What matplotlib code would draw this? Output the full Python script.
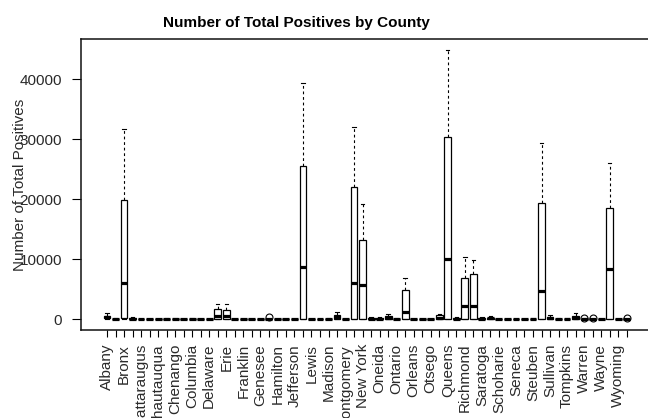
import matplotlib
matplotlib.use("Agg")
import matplotlib.pyplot as plt

# County names (alphabetical, as sorted by R)
counties = [
    "Albany", "Allegany", "Bronx", "Broome", "Cattaraugus", "Cayuga", "Chautauqua",
    "Chemung", "Chenango", "Clinton", "Columbia", "Cortland", "Delaware", "Dutchess",
    "Erie", "Essex", "Franklin", "Fulton", "Genesee", "Greene", "Hamilton", "Herkimer",
    "Jefferson", "Kings", "Lewis", "Livingston", "Madison", "Monroe", "Montgomery",
    "Nassau", "New York", "Niagara", "Oneida", "Onondaga", "Ontario", "Orange",
    "Orleans", "Oswego", "Otsego", "Putnam", "Queens", "Rensselaer", "Richmond",
    "Rockland", "Saratoga", "Schenectady", "Schoharie", "Schuyler", "Seneca",
    "St. Lawrence", "Steuben", "Suffolk", "Sullivan", "Tioga", "Tompkins", "Ulster",
    "Warren", "Washington", "Wayne", "Westchester", "Wyoming", "Yates",
]

# five-number summaries per county
q1 = [100, 0, 100, 10, 0, 0, 0, 0, 0, 0, 0, 0, 0, 50,
      50, 0, 0, 0, 0, 0, 0, 0, 0, 50, 0, 0, 0, 30, 0,
      50, 50, 10, 10, 30, 0, 30, 0, 0, 0, 20, 50, 10, 30,
      30, 10, 10, 0, 0, 0, 0, 0, 50, 10, 0, 0, 20,
      0, 0, 0, 50, 0, 0]
median = [350, 20, 6000, 60, 10, 10, 10, 20, 15, 10, 20, 10, 10, 450,
          500, 5, 5, 10, 10, 10, 0, 10, 10, 8700, 5, 10, 20, 300, 10,
          6000, 5700, 60, 40, 250, 20, 1200, 10, 10, 10, 200, 10000, 80, 2200,
          2200, 80, 100, 5, 2, 5, 10, 20, 4700, 100, 20, 20, 200,
          20, 10, 10, 8300, 10, 5]
q3 = [550, 60, 19800, 180, 40, 40, 30, 80, 60, 40, 60, 30, 30, 1700,
      1500, 20, 15, 40, 40, 30, 5, 40, 30, 25500, 10, 40, 80, 700, 40,
      22000, 13200, 200, 150, 550, 60, 4800, 40, 40, 40, 600, 30300, 200, 6800,
      7500, 250, 250, 20, 10, 20, 40, 80, 19300, 300, 60, 70, 500,
      60, 40, 40, 18500, 30, 15]
whisker_lo = [0] * len(counties)
whisker_hi = [1000, 120, 31700, 350, 80, 80, 60, 150, 120, 80, 150, 60, 60, 2500,
              2500, 40, 30, 80, 80, 70, 5, 80, 60, 39300, 20, 80, 150, 1100, 80,
              32000, 19200, 400, 300, 800, 120, 6800, 80, 80, 80, 900, 44800, 350, 10300,
              9800, 400, 450, 40, 20, 40, 80, 150, 29300, 700, 120, 130, 1000,
              120, 80, 80, 26000, 60, 30]
outliers = {"Greene": [280], "Warren": [200], "Washington": [180], "Yates": [150]}

stats = []
for i, name in enumerate(counties):
    stats.append({
        "label": name,
        "q1": q1[i], "med": median[i], "q3": q3[i],
        "whislo": whisker_lo[i], "whishi": whisker_hi[i],
        "fliers": outliers.get(name, []),
    })

plt.rcParams["font.family"] = ["Liberation Sans", "DejaVu Sans"]
plt.rcParams["font.size"] = 11

fig = plt.figure(figsize=(6.48, 4.18), dpi=100)
ax = fig.add_axes([81 / 648, 88 / 418, 567 / 648, 291 / 418])

positions = list(range(1, len(counties) + 1))
ax.bxp(stats, positions=positions, widths=0.8, capwidths=0.4,
       patch_artist=True,
       boxprops=dict(facecolor="white", edgecolor="black", linewidth=0.9),
       medianprops=dict(color="black", linewidth=2.3, solid_capstyle="butt"),
       whiskerprops=dict(color="black", linewidth=0.8, linestyle=(0, (2.5, 2.5))),
       capprops=dict(color="black", linewidth=0.8),
       flierprops=dict(marker="o", markerfacecolor="none", markeredgecolor="black",
                       markersize=5, markeredgewidth=0.8))

ax.set_xlim(-2.05, 64.5)
ax.set_ylim(-1833, 46667)

# every other name is shown, as R drops overlapping labels
shown = [name if i % 2 == 0 else "" for i, name in enumerate(counties)]
ax.set_xticks(positions)
ax.set_xticklabels(shown, rotation=90, va="top", ha="center", color="#2a2a2a")
ax.tick_params(axis="x", length=5, width=0.8, pad=5)

ax.set_yticks([0, 10000, 20000, 30000, 40000])
ax.set_yticklabels(["0", "10000", "20000", "30000", "40000"], color="#2a2a2a")
ax.tick_params(axis="y", length=6.5, width=0.8, pad=7)

ax.spines["right"].set_visible(False)
for side in ["left", "top", "bottom"]:
    ax.spines[side].set_linewidth(1.1)
    ax.spines[side].set_color("#111111")

ax.set_ylabel("Number of Total Positives", color="#2a2a2a", va="center")
ax.yaxis.set_label_coords(-61 / 567, 0.5)

fig.text(296 / 648, 1 - 23 / 418, "Number of Total Positives by County",
         ha="center", va="center", fontsize=11, fontweight="bold")

fig.savefig("out.png", dpi=100)
